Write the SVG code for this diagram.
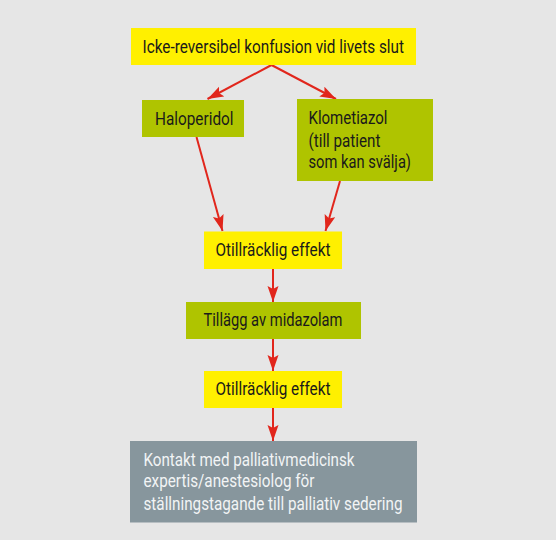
<svg xmlns="http://www.w3.org/2000/svg" width="556" height="540" viewBox="0 0 556 540">
  <style>
    .t { font-family: "Liberation Sans Narrow", "Roboto", "Liberation Sans", sans-serif; font-size: 18px; fill: #1a1a1a; }
    .w { fill: #f2f4f5; }
    .yel { fill: #fff000; }
    .grn { fill: #afc400; }
    .gry { fill: #87969d; }
    .c { stroke: #e1261c; stroke-width: 2; fill: none; }
  </style>
  <defs>
    <marker id="ah" markerUnits="userSpaceOnUse" markerWidth="17" markerHeight="12" refX="16" refY="5.5" orient="auto">
      <path d="M0,0 L16,5.5 L0,11 L3,5.5 z" fill="#e1261c"/>
    </marker>
  </defs>
  <rect width="556" height="540" fill="#e6e6e6"/>

  <g id="connectors">
    <line class="c" x1="271.5" y1="65" x2="207.5" y2="99" marker-end="url(#ah)"/>
    <line class="c" x1="271.5" y1="65" x2="336" y2="99" marker-end="url(#ah)"/>
    <line class="c" x1="196.5" y1="137" x2="222.5" y2="231" marker-end="url(#ah)"/>
    <line class="c" x1="340" y1="181" x2="325.5" y2="231" marker-end="url(#ah)"/>
    <line class="c" x1="273" y1="269" x2="273" y2="302" marker-end="url(#ah)"/>
    <line class="c" x1="273" y1="339" x2="273" y2="371" marker-end="url(#ah)"/>
    <line class="c" x1="273" y1="408" x2="273" y2="441" marker-end="url(#ah)"/>
  </g>

  <g id="start">
    <rect class="yel" x="131" y="28" width="285" height="37"/>
    <text class="t" x="142.5" y="52.5" textLength="261.5" lengthAdjust="spacingAndGlyphs" style="font-size:19px">Icke-reversibel konfusion vid livets slut</text>
  </g>

  <g id="haloperidol">
    <rect class="grn" x="142" y="100" width="102" height="37"/>
    <text class="t" x="155" y="124.7" textLength="78.5" lengthAdjust="spacingAndGlyphs">Haloperidol</text>
  </g>

  <g id="klometiazol">
    <rect class="grn" x="297" y="99" width="136" height="82"/>
    <text class="t" x="308.5" y="124.3" textLength="79" lengthAdjust="spacingAndGlyphs">Klometiazol</text>
    <text class="t" x="308.5" y="146.7" textLength="72" lengthAdjust="spacingAndGlyphs">(till patient</text>
    <text class="t" x="308.5" y="167.5" textLength="102.5" lengthAdjust="spacingAndGlyphs">som kan svälja)</text>
  </g>

  <g id="otillracklig1">
    <rect class="yel" x="204" y="231.5" width="138" height="37.5"/>
    <text class="t" x="215.5" y="256" textLength="115" lengthAdjust="spacingAndGlyphs">Otillräcklig effekt</text>
  </g>

  <g id="midazolam">
    <rect class="grn" x="186" y="302" width="175" height="37"/>
    <text class="t" x="203.5" y="325.7" textLength="139" lengthAdjust="spacingAndGlyphs">Tillägg av midazolam</text>
  </g>

  <g id="otillracklig2">
    <rect class="yel" x="204" y="371" width="138" height="37"/>
    <text class="t" x="215.5" y="395.3" textLength="115" lengthAdjust="spacingAndGlyphs">Otillräcklig effekt</text>
  </g>

  <g id="kontakt">
    <rect class="gry" x="130" y="441" width="287" height="81.5"/>
    <text class="t w" x="143.5" y="465.8" textLength="211" lengthAdjust="spacingAndGlyphs">Kontakt med palliativmedicinsk</text>
    <text class="t w" x="143.5" y="486.5" textLength="171" lengthAdjust="spacingAndGlyphs">expertis/anestesiolog för</text>
    <text class="t w" x="143.5" y="509.5" textLength="259" lengthAdjust="spacingAndGlyphs">ställningstagande till palliativ sedering</text>
  </g>
</svg>
